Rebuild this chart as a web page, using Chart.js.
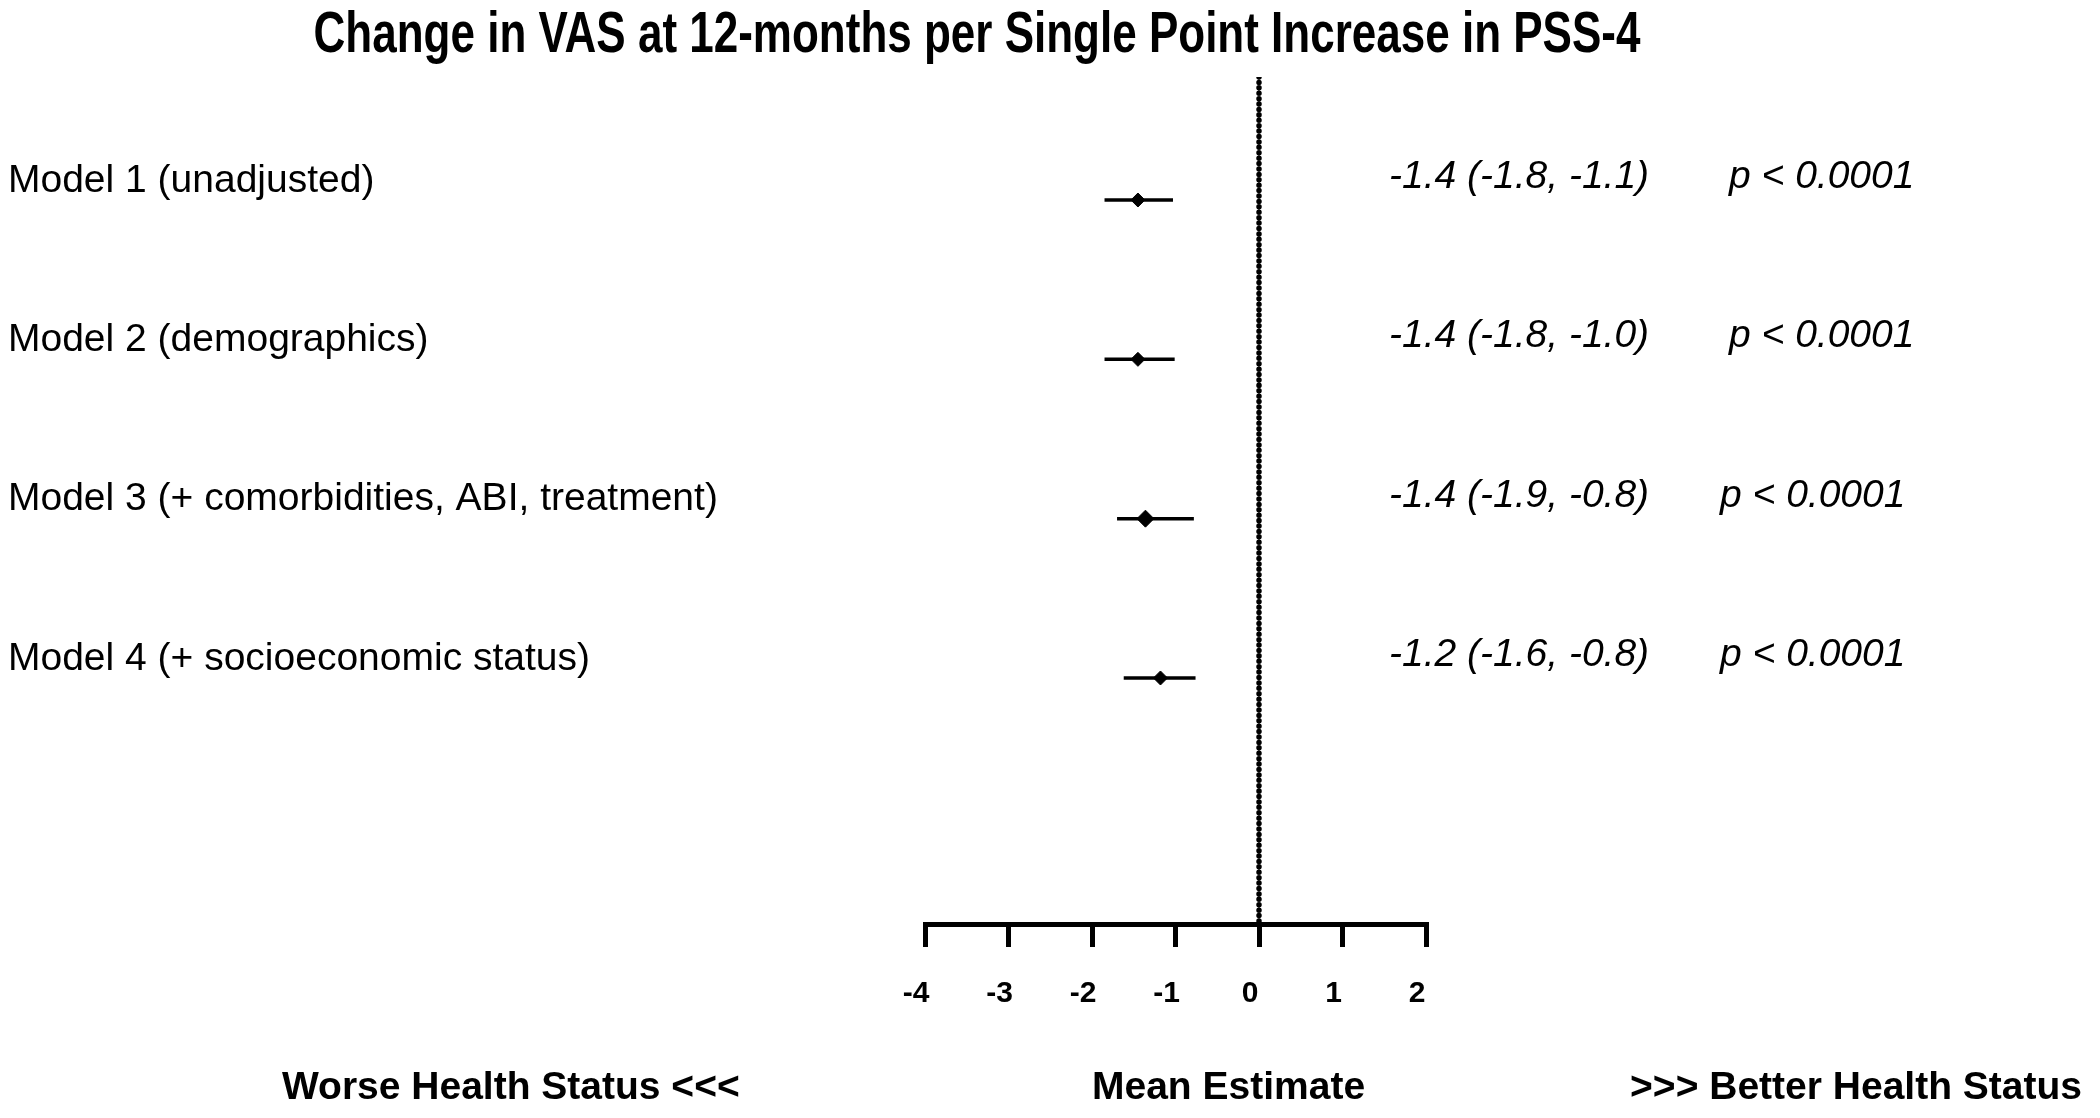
<!DOCTYPE html>
<html>
<head>
<meta charset="utf-8">
<script src="https://cdn.jsdelivr.net/npm/chart.js@4.4.1/dist/chart.umd.min.js"></script>
<style>
  html, body { margin: 0; padding: 0; background: #fff; }
  canvas { display: block; }
</style>
</head>
<body>
<canvas id="c" width="2100" height="1118"></canvas>
<script>
// ---- data ----
const chartTitle = 'Change in VAS at 12-months per Single Point Increase in PSS-4';
const models = [
  'Model 1 (unadjusted)',
  'Model 2 (demographics)',
  'Model 3 (+ comorbidities, ABI, treatment)',
  'Model 4 (+ socioeconomic status)'
];
const estimates = [-1.45, -1.45, -1.36, -1.18];
const ciLow     = [-1.85, -1.85, -1.70, -1.62];
const ciHigh    = [-1.03, -1.01, -0.78, -0.76];
const estimateLabels = [
  '-1.4 (-1.8, -1.1)',
  '-1.4 (-1.8, -1.0)',
  '-1.4 (-1.9, -0.8)',
  '-1.2 (-1.6, -0.8)'
];
const pLabels = ['p < 0.0001', 'p < 0.0001', 'p < 0.0001', 'p < 0.0001'];
const xTicks = [-4, -3, -2, -1, 0, 1, 2];
const bottomLabels = ['Worse Health Status <<<', 'Mean Estimate', '>>> Better Health Status'];
const refValue = 0;

// ---- layout / style ----
const FONT = "'Liberation Sans', Arial, sans-serif";
const Y_MIN = 0.228, Y_MAX = 5.544;
const rows = models.map((m, i) => i + 1);

const datasets = [];
models.forEach((m, i) => {
  datasets.push({
    type: 'line',
    data: [{x: ciLow[i], y: rows[i]}, {x: ciHigh[i], y: rows[i]}],
    borderColor: '#000', borderWidth: 3.5, pointRadius: 0, fill: false
  });
});
datasets.push({
  type: 'line',
  data: [{x: refValue, y: Y_MIN}, {x: refValue, y: Y_MAX}],
  borderColor: '#000', borderWidth: 5.5, borderDash: [0.01, 5.4], borderCapStyle: 'round',
  pointRadius: 0, fill: false
});
datasets.push({
  type: 'scatter',
  data: estimates.map((v, i) => ({x: v, y: rows[i]})),
  pointStyle: 'rectRot',
  pointRadius: estimates.map((v, i) => i === 2 ? 8.5 : 7),
  backgroundColor: '#000', borderColor: '#000', borderWidth: 1
});

const textPlugin = {
  id: 'texts',
  afterDraw(chart) {
    const ctx = chart.ctx;
    const ys = chart.scales.y;
    ctx.save();
    ctx.fillStyle = '#000';
    // title (tall condensed look)
    ctx.save();
    ctx.font = `bold 44px ${FONT}`;
    ctx.textAlign = 'center';
    ctx.textBaseline = 'alphabetic';
    ctx.translate(977, 52);
    ctx.scale(1, 1.32);
    ctx.fillText(chartTitle, 0, 0);
    ctx.restore();

    // model labels
    ctx.font = `39px ${FONT}`;
    ctx.textAlign = 'left';
    ctx.textBaseline = 'middle';
    models.forEach((m, i) => {
      ctx.fillText(m, 8, ys.getPixelForValue(rows[i]) - 19);
    });
    // estimate + p labels
    ctx.font = `italic 39px ${FONT}`;
    estimateLabels.forEach((t, i) => {
      const y = ys.getPixelForValue(rows[i]) - 23;
      ctx.fillText(t, 1389, y);
      ctx.fillText(pLabels[i], i < 2 ? 1729 : 1720, y);
    });
    // bottom labels
    ctx.font = `bold 39px ${FONT}`;
    ctx.textBaseline = 'alphabetic';
    ctx.textAlign = 'left';
    ctx.fillText(bottomLabels[0], 282, 1099);
    ctx.fillText(bottomLabels[1], 1092, 1099);
    ctx.textAlign = 'right';
    ctx.fillText(bottomLabels[2], 2082, 1099);
    ctx.restore();
  }
};

new Chart(document.getElementById('c'), {
  type: 'scatter',
  data: { datasets },
  options: {
    responsive: false,
    animation: false,
    devicePixelRatio: 1,
    layout: { padding: { left: 925, right: 674, top: 77, bottom: 0 } },
    plugins: { legend: { display: false }, tooltip: { enabled: false }, title: { display: false } },
    scales: {
      x: {
        type: 'linear', position: 'bottom', min: xTicks[0], max: xTicks[xTicks.length - 1],
        afterFit(s) { s.height = 1118 - 924; },
        afterBuildTicks(s) { s.ticks = xTicks.map(v => ({ value: v })); },
        ticks: {
          color: '#000', padding: 29, labelOffset: -9,
          font: { family: FONT, weight: 'bold', size: 30 },
          callback: (v) => String(v)
        },
        grid: { drawOnChartArea: false, drawTicks: true, tickLength: 23, tickWidth: 5, lineWidth: 5, tickColor: '#000', color: '#000' },
        border: { display: true, color: '#000', width: 5 }
      },
      y: { type: 'linear', display: false, min: Y_MIN, max: Y_MAX, reverse: true }
    }
  },
  plugins: [textPlugin]
});
</script>
</body>
</html>
